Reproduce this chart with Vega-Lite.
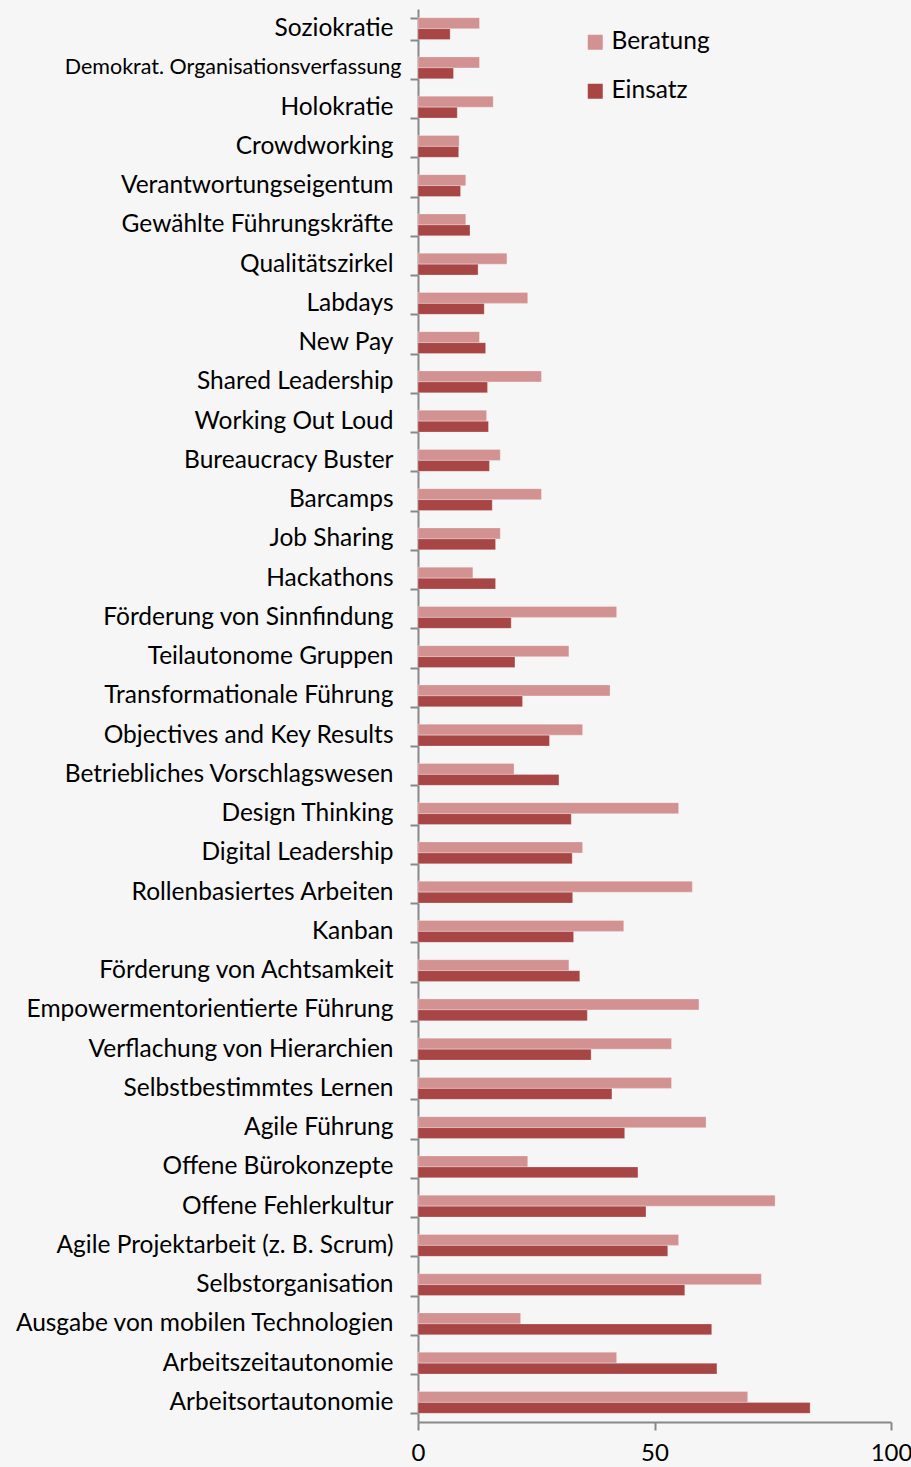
{
  "$schema": "https://vega.github.io/schema/vega-lite/v6.json",
  "autosize": "none",
  "width": 473,
  "height": 1413,
  "padding": {"left": 418, "top": 9, "right": 20, "bottom": 45},
  "background": "#f6f6f6",
  "config": {"view": {"stroke": null}, "font": "Lato"},
  "datasets": {
    "rows": [
      {"m": "Soziokratie", "Beratung": 13.0, "Einsatz": 6.8},
      {"m": "Demokrat. Organisationsverfassung", "Beratung": 13.0, "Einsatz": 7.5},
      {"m": "Holokratie", "Beratung": 15.9, "Einsatz": 8.3},
      {"m": "Crowdworking", "Beratung": 8.7, "Einsatz": 8.6},
      {"m": "Verantwortungseigentum\u00a0", "Beratung": 10.1, "Einsatz": 9.0},
      {"m": "Gewählte Führungskräfte", "Beratung": 10.1, "Einsatz": 11.0},
      {"m": "Qualitätszirkel", "Beratung": 18.8, "Einsatz": 12.7},
      {"m": "Labdays", "Beratung": 23.2, "Einsatz": 14.0},
      {"m": "New Pay", "Beratung": 13.0, "Einsatz": 14.3},
      {"m": "Shared Leadership", "Beratung": 26.1, "Einsatz": 14.7},
      {"m": "Working Out Loud", "Beratung": 14.5, "Einsatz": 14.9},
      {"m": "Bureaucracy Buster", "Beratung": 17.4, "Einsatz": 15.1},
      {"m": "Barcamps", "Beratung": 26.1, "Einsatz": 15.7},
      {"m": "Job Sharing", "Beratung": 17.4, "Einsatz": 16.4},
      {"m": "Hackathons", "Beratung": 11.6, "Einsatz": 16.4},
      {"m": "Förderung von Sinnfindung", "Beratung": 42.0, "Einsatz": 19.7},
      {"m": "Teilautonome Gruppen", "Beratung": 31.9, "Einsatz": 20.5},
      {"m": "Transformationale Führung", "Beratung": 40.6, "Einsatz": 22.1},
      {"m": "Objectives and Key Results", "Beratung": 34.8, "Einsatz": 27.8},
      {"m": "Betriebliches Vorschlagswesen", "Beratung": 20.3, "Einsatz": 29.8},
      {"m": "Design Thinking", "Beratung": 55.1, "Einsatz": 32.4},
      {"m": "Digital Leadership", "Beratung": 34.8, "Einsatz": 32.6},
      {"m": "Rollenbasiertes Arbeiten", "Beratung": 58.0, "Einsatz": 32.7},
      {"m": "Kanban", "Beratung": 43.5, "Einsatz": 32.9},
      {"m": "Förderung von Achtsamkeit", "Beratung": 31.9, "Einsatz": 34.2},
      {"m": "Empowermentorientierte Führung", "Beratung": 59.4, "Einsatz": 35.8},
      {"m": "Verflachung von Hierarchien", "Beratung": 53.6, "Einsatz": 36.6},
      {"m": "Selbstbestimmtes Lernen\u00a0", "Beratung": 53.6, "Einsatz": 41.0},
      {"m": "Agile Führung", "Beratung": 60.9, "Einsatz": 43.7},
      {"m": "Offene Bürokonzepte", "Beratung": 23.2, "Einsatz": 46.5},
      {"m": "Offene Fehlerkultur", "Beratung": 75.5, "Einsatz": 48.2},
      {"m": "Agile Projektarbeit (z. B. Scrum)", "Beratung": 55.1, "Einsatz": 52.8},
      {"m": "Selbstorganisation\u00a0", "Beratung": 72.6, "Einsatz": 56.4},
      {"m": "Ausgabe von mobilen Technologien", "Beratung": 21.7, "Einsatz": 62.1},
      {"m": "Arbeitszeitautonomie", "Beratung": 42.0, "Einsatz": 63.2},
      {"m": "Arbeitsortautonomie", "Beratung": 69.7, "Einsatz": 82.9}
    ]
  },
  "data": {"name": "rows"},
  "transform": [
    {"fold": ["Beratung", "Einsatz"], "as": ["Art", "Wert"]}
  ],
  "mark": {"type": "bar", "stroke": "#ffffff", "strokeOpacity": 0.35, "strokeWidth": 0.8},
  "encoding": {
    "y": {
      "field": "m",
      "type": "nominal",
      "sort": null,
      "scale": {"paddingInner": 0.44, "paddingOuter": 0.22},
      "axis": {
        "title": null,
        "tickBand": "extent",
        "domainColor": "#888888",
        "domainWidth": 2,
        "tickColor": "#888888",
        "tickWidth": 2,
        "tickSize": 8,
        "labelPadding": {"condition": {"test": "datum.value == 'Demokrat. Organisationsverfassung'", "value": 9}, "value": 17},
        "labelColor": "#000000",
        "labelFont": "Lato",
        "labelFontSize": {"condition": {"test": "datum.value == 'Demokrat. Organisationsverfassung'", "value": 21.5}, "value": 24.5},
        "labelLimit": 420
      }
    },
    "yOffset": {"field": "Art", "type": "nominal", "sort": ["Beratung", "Einsatz"], "scale": {"paddingInner": 0}},
    "x": {
      "field": "Wert",
      "type": "quantitative",
      "scale": {"domain": [0, 100], "nice": false},
      "axis": {
        "title": null,
        "values": [0, 50, 100],
        "grid": false,
        "domainColor": "#888888",
        "domainWidth": 2,
        "tickColor": "#888888",
        "tickWidth": 2,
        "tickSize": 8,
        "labelPadding": 11,
        "labelColor": "#000000",
        "labelFont": "Lato",
        "labelFontSize": 24,
        "labelFlush": false,
        "labelOverlap": false
      }
    },
    "color": {
      "field": "Art",
      "type": "nominal",
      "scale": {"domain": ["Beratung", "Einsatz"], "range": ["#d39292", "#a84545"]},
      "legend": {
        "title": null,
        "orient": "none",
        "legendX": 165,
        "legendY": 21,
        "symbolType": "square",
        "symbolSize": 225,
        "symbolStrokeWidth": 0,
        "labelFont": "Lato",
        "labelFontSize": 24.5,
        "labelColor": "#000000",
        "rowPadding": 24,
        "labelOffset": 4
      }
    }
  }
}
